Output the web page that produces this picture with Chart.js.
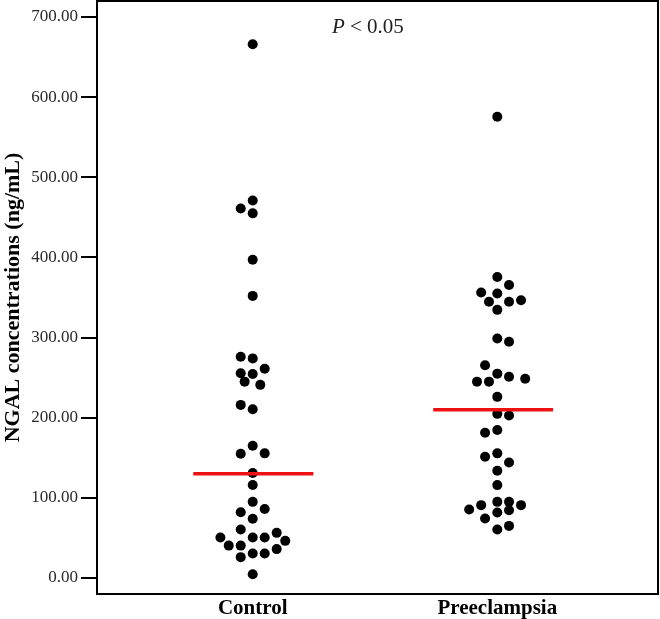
<!DOCTYPE html>
<html>
<head>
<meta charset="utf-8">
<script src="https://cdn.jsdelivr.net/npm/chart.js@4"></script>
<style>
  html, body { margin: 0; padding: 0; background: #fff; }
  #wrap { width: 660px; height: 619px; }
</style>
</head>
<body>
<div id="wrap"><canvas id="c" width="660" height="619"></canvas></div>
<script>
// ---- Data ----
const categories = ["Control", "Preeclampsia"];
const categoryPos = [1, 2];

const controlValues = [666, 471, 461, 455, 397, 352, 276, 274, 261, 255.5, 254.6, 245, 241, 216, 210.5,
  165, 155, 155.5, 131, 116, 95, 82, 86, 74, 60.4, 50.5, 40.4, 40.4, 50.5, 50.5, 56.3, 46.3,
  26, 30.5, 30.5, 36, 4.6];
// horizontal swarm offsets (category units)
const controlOffsets = [0, 0, -0.049, 0, 0, 0, -0.049, 0, 0.049, -0.049, 0, -0.033, 0.031, -0.049, 0,
  0, -0.049, 0.049, 0, 0, 0, -0.049, 0.049, 0, -0.049, -0.132, -0.098, -0.049, 0, 0.049, 0.098, 0.133,
  -0.049, 0, 0.049, 0.098, 0];

const preValues = [575.5, 375.5, 365.5, 356.3, 355, 344.8, 344.8, 346.5, 334.6, 298.8, 294.8, 265.5,
  255, 251, 248.6, 245, 245, 226, 204.8, 202.8, 181.3, 184.6, 151.3, 155.5, 144.2, 133.8, 115.9,
  85.5, 90.9, 95, 95, 90.9, 74.2, 81.7, 84.6, 60.4, 65];
const preOffsets = [0, 0, 0.048, -0.066, 0, -0.034, 0.048, 0.097, 0, 0, 0.048, -0.050,
  0, 0.048, 0.114, -0.083, -0.034, 0, 0, 0.048, -0.050, 0, -0.050, 0, 0.048, 0, 0,
  -0.115, -0.066, 0, 0.048, 0.097, -0.050, 0, 0.048, 0, 0.048];

const medians = [130, 210];
const medianSpan = [[0.757, 1.248], [1.738, 2.228]];

const yTicks = [0, 100, 200, 300, 400, 500, 600, 700];
const annotationText = ["P", " < 0.05"];
const annotationPos = { x: 1.471, y: 687 };

// ---- Build datasets ----
function pts(pos, vals, offs) {
  return vals.map((v, i) => ({ x: pos + offs[i], y: v }));
}

const serif = "'Liberation Serif', 'Times New Roman', serif";

const frame = {
  id: 'frame',
  afterDraw(chart) {
    const { ctx, chartArea: a } = chart;
    ctx.save();
    ctx.strokeStyle = '#000';
    ctx.lineWidth = 2;
    ctx.beginPath();
    ctx.moveTo(a.left, a.top);
    ctx.lineTo(a.right, a.top);
    ctx.lineTo(a.right, a.bottom);
    ctx.stroke();
    // annotation text
    const xs = chart.scales.x, ys = chart.scales.y;
    const cx = xs.getPixelForValue(annotationPos.x);
    const cy = ys.getPixelForValue(annotationPos.y);
    ctx.fillStyle = '#222';
    ctx.textBaseline = 'middle';
    const f1 = "italic 21px " + serif;
    const f2 = "21px " + serif;
    ctx.font = f1; const w1 = ctx.measureText(annotationText[0]).width;
    ctx.font = f2; const w2 = ctx.measureText(annotationText[1]).width;
    let x0 = cx - (w1 + w2) / 2;
    ctx.textAlign = 'left';
    ctx.font = f1; ctx.fillText(annotationText[0], x0, cy);
    ctx.font = f2; ctx.fillText(annotationText[1], x0 + w1, cy);
    ctx.restore();
  }
};

const datasets = [
  {
    type: 'scatter',
    data: pts(categoryPos[0], controlValues, controlOffsets),
    backgroundColor: '#000', borderColor: '#000', borderWidth: 0,
    pointRadius: 5, pointHoverRadius: 5, order: 2
  },
  {
    type: 'scatter',
    data: pts(categoryPos[1], preValues, preOffsets),
    backgroundColor: '#000', borderColor: '#000', borderWidth: 0,
    pointRadius: 5, pointHoverRadius: 5, order: 2
  }
];
medians.forEach((m, i) => {
  datasets.push({
    type: 'line',
    data: [{ x: medianSpan[i][0], y: m }, { x: medianSpan[i][1], y: m }],
    borderColor: '#ee1111', borderWidth: 3.5, pointRadius: 0, fill: false, order: 1
  });
});

new Chart(document.getElementById('c'), {
  type: 'scatter',
  data: { datasets },
  options: {
    responsive: false,
    animation: false,
    events: [],
    layout: { autoPadding: false, padding: { top: 1, right: 2, left: 0, bottom: 0 } },
    plugins: { legend: { display: false }, tooltip: { enabled: false }, title: { display: false } },
    scales: {
      x: {
        type: 'linear',
        min: 0.3634, max: 2.657,
        afterBuildTicks: (s) => { s.ticks = categoryPos.map(v => ({ value: v })); },
        afterFit: (s) => { s.height = 25; s.paddingLeft = 0; s.paddingRight = 0; },
        grid: { display: false, drawTicks: false },
        border: { display: true, color: '#000', width: 2 },
        ticks: {
          padding: 2,
          color: '#000',
          font: { family: serif, size: 21, weight: 'bold' },
          callback: (v) => categories[categoryPos.indexOf(v)] || ''
        }
      },
      y: {
        min: -20, max: 720,
        afterBuildTicks: (s) => { s.ticks = yTicks.map(v => ({ value: v })); },
        afterFit: (s) => { s.width = 97; s.paddingTop = 0; s.paddingBottom = 0; },
        grid: { drawOnChartArea: false, drawTicks: true, tickLength: 16, color: '#000', lineWidth: 2 },
        border: { display: true, color: '#000', width: 2 },
        ticks: {
          padding: 3,
          color: '#2a2a2a',
          font: { family: serif, size: 17 },
          callback: (v) => Number(v).toFixed(2)
        },
        title: {
          display: true,
          text: 'NGAL concentrations (ng/mL)',
          color: '#000',
          padding: { top: 0, bottom: 0 },
          font: { family: serif, size: 22, weight: 'bold' }
        }
      }
    }
  },
  plugins: [frame]
});
</script>
</body>
</html>
